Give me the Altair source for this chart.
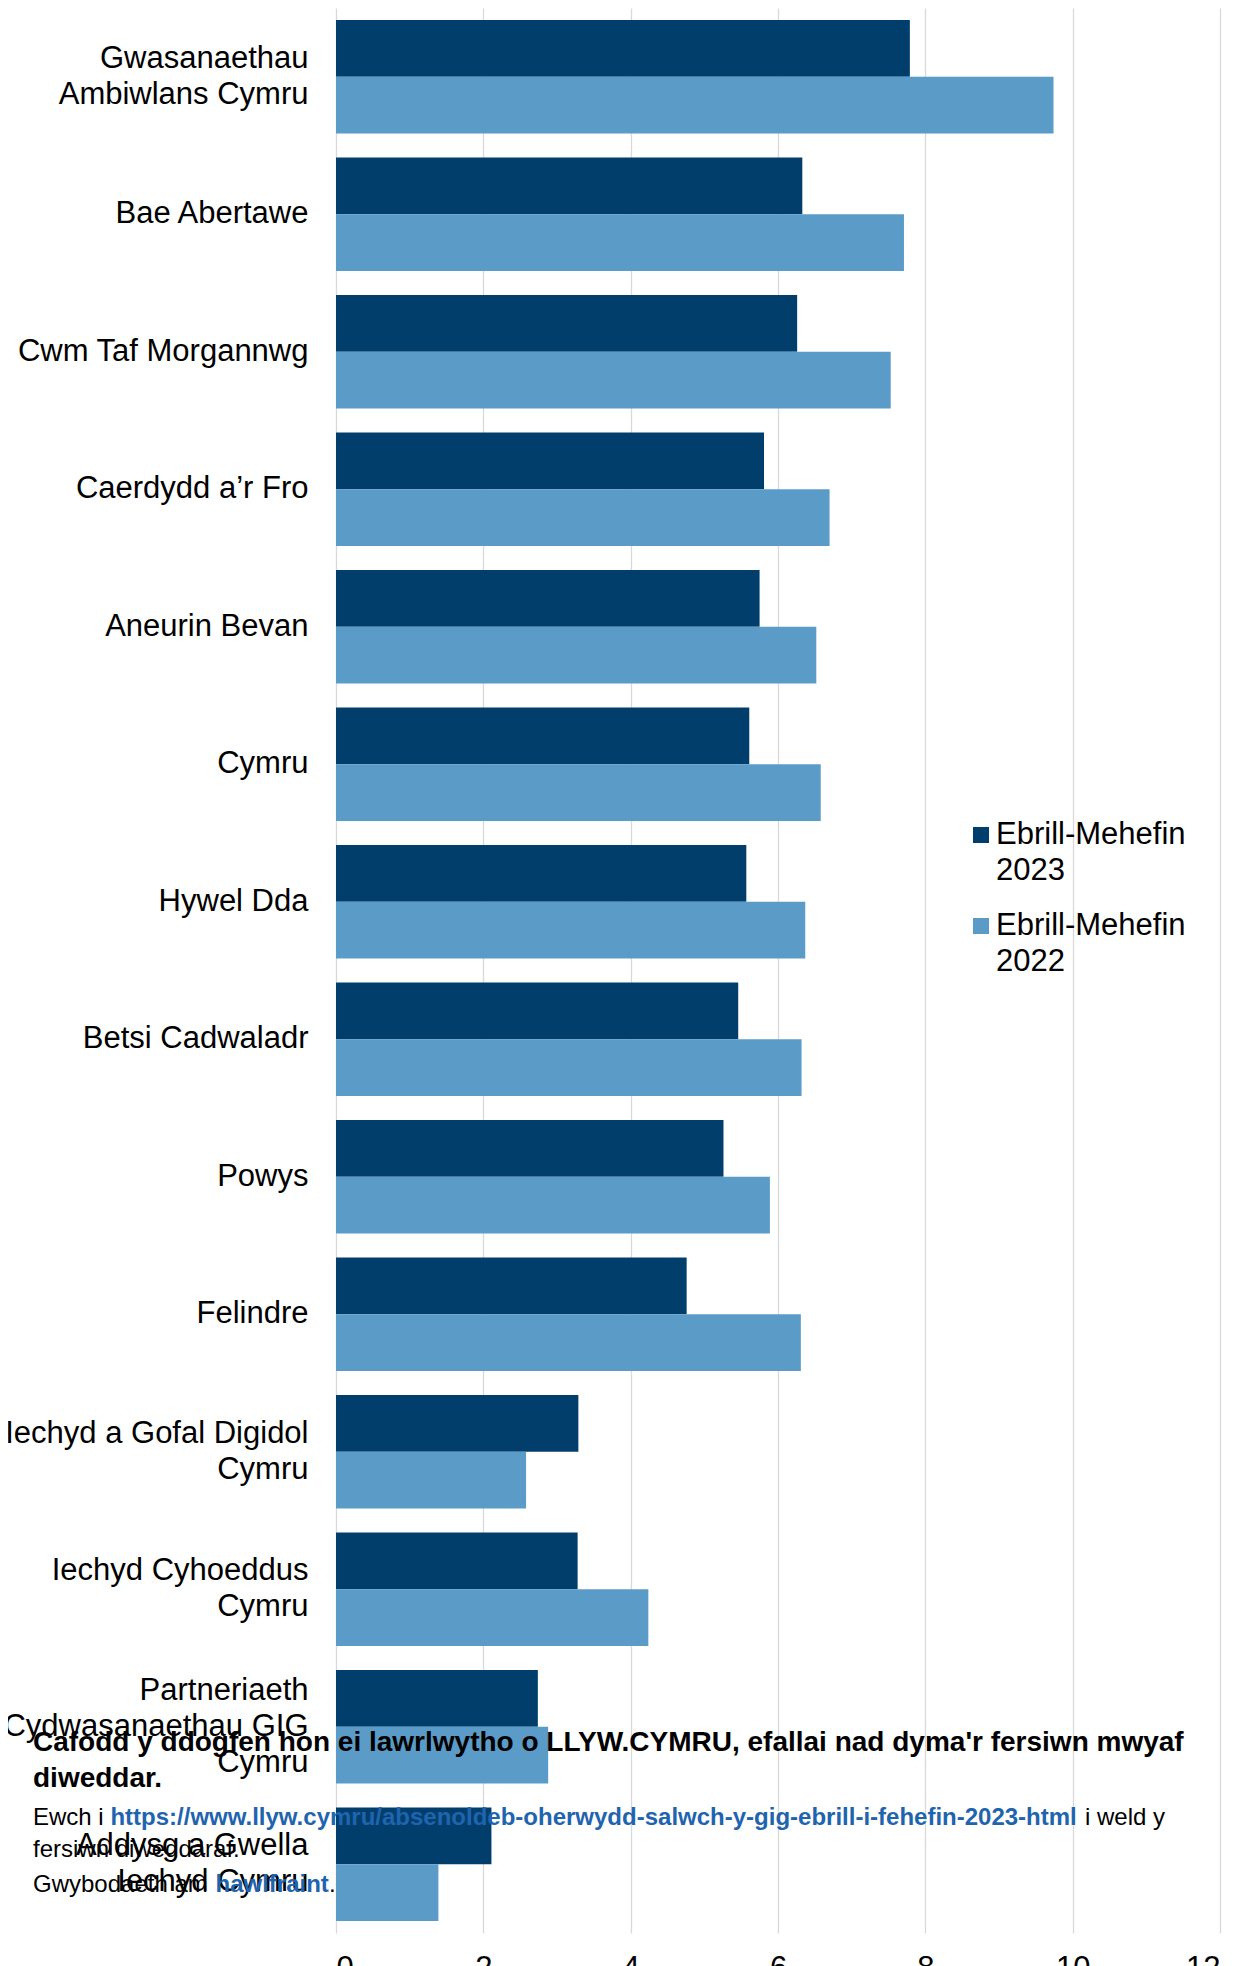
import altair as alt
import pandas as pd

# ---- data ----
categories = [
    "Gwasanaethau\nAmbiwlans Cymru",
    "Bae Abertawe",
    "Cwm Taf Morgannwg",
    "Caerdydd a’r Fro",
    "Aneurin Bevan",
    "Cymru",
    "Hywel Dda",
    "Betsi Cadwaladr",
    "Powys",
    "Felindre",
    "Iechyd a Gofal Digidol\nCymru",
    "Iechyd Cyhoeddus\nCymru",
    "Partneriaeth\nCydwasanaethau GIG\nCymru",
    "Addysg a Gwella\nIechyd Cymru",
]
series = ["Ebrill-Mehefin 2023", "Ebrill-Mehefin 2022"]
values_2023 = [7.79, 6.33, 6.26, 5.81, 5.75, 5.61, 5.57, 5.46, 5.26, 4.76, 3.29, 3.28, 2.74, 2.11]
values_2022 = [9.74, 7.71, 7.53, 6.70, 6.52, 6.58, 6.37, 6.32, 5.89, 6.31, 2.58, 4.24, 2.88, 1.39]
x_ticks = [0, 2, 4, 6, 8, 10, 12]
colors = ["#023e6b", "#5b9bc8"]

notice_bold = ["Cafodd y ddogfen hon ei lawrlwytho o LLYW.CYMRU, efallai nad dyma'r fersiwn mwyaf",
               "diweddar."]
notice_pre = "Ewch i"
notice_url = "https://www.llyw.cymru/absenoldeb-oherwydd-salwch-y-gig-ebrill-i-fehefin-2023-html"
notice_post = "i weld y"
notice_line2 = "fersiwn diweddaraf."
notice_line3 = "Gwybodaeth am"
notice_link2 = "hawlfraint"
notice_dot = "."

FONT = "Liberation Sans"
LINK = "#1f64ae"
FS = 31
LH = 36

rows = []
for c, a, b in zip(categories, values_2023, values_2022):
    rows.append({"category": c, "series": series[0], "value": a})
    rows.append({"category": c, "series": series[1], "value": b})
df = pd.DataFrame(rows)

nlines = "length(split(datum.value, '\\n'))"

bars = alt.Chart(df).mark_bar().encode(
    x=alt.X(
        "value:Q",
        scale=alt.Scale(domain=[0, 12], nice=False, zero=True),
        axis=alt.Axis(
            values=x_ticks, title=None, grid=True, gridColor="#d9d9d9", gridWidth=1.3,
            domain=False, ticks=False, labelFontSize=FS, labelFont=FONT,
            labelColor="black", labelPadding=20,
        ),
    ),
    y=alt.Y(
        "category:N",
        sort=categories,
        scale=alt.Scale(paddingInner=0.175, paddingOuter=0.0875),
        axis=alt.Axis(
            title=None, domain=False, ticks=False, labelFontSize=FS, labelFont=FONT,
            labelColor="black", labelPadding=28, labelLimit=400, labelOverlap=False,
            labelExpr="split(datum.label, '\\n')", labelLineHeight=LH,
            labelOffset={
                "condition": [
                    {"test": nlines + " == 3", "value": -LH},
                    {"test": nlines + " == 2", "value": -LH / 2},
                ],
                "value": 0,
            },
        ),
    ),
    yOffset=alt.YOffset("series:N", sort=series, scale=alt.Scale(paddingInner=0, paddingOuter=0)),
    color=alt.Color("series:N", sort=series, scale=alt.Scale(domain=series, range=colors), legend=None),
)

one = pd.DataFrame({"k": [0]})

# ---- legend (manual, to get two-line labels with the right spacing) ----
legend_layers = []
for i, (s, col) in enumerate(zip(series, colors)):
    legend_layers.append(
        alt.Chart(one).mark_square(size=256, color=col, opacity=1, strokeWidth=0).encode(
            x=alt.value(645), y=alt.value(827 + 91 * i)
        )
    )
    legend_layers.append(
        alt.Chart(one).mark_text(
            text=s.split(" "), font=FONT, fontSize=FS, lineHeight=LH, align="left",
            baseline="alphabetic", color="black",
        ).encode(x=alt.value(660), y=alt.value(836 + 91 * i))
    )

# ---- overlaid download notice ----
def txt(t, x, y, size, bold=False, color="black", lh=None):
    kw = dict(text=t, font=FONT, fontSize=size, align="left", baseline="alphabetic",
              color=color, fontWeight="bold" if bold else "normal")
    if lh:
        kw["lineHeight"] = lh
    return alt.Chart(one).mark_text(**kw).encode(x=alt.value(x), y=alt.value(y))

overlay = [
    txt(notice_bold, -303, 1743, 28, bold=True, lh=36),
    txt(notice_pre, -303, 1817, 24),
    txt(notice_url, -225.6, 1817, 24, bold=True, color=LINK),
    txt(notice_post, 749, 1817, 24),
    txt(notice_line2, -303, 1849, 24),
    txt(notice_line3, -303, 1884, 24),
    txt(notice_link2, -120.5, 1884, 24, bold=True, color=LINK),
    txt(notice_dot, -7, 1884, 24),
]

chart = alt.layer(bars, *legend_layers, *overlay).properties(
    width=884,
    height=1925,
    padding={"left": 328, "top": 0, "right": 22, "bottom": 40},
    autosize=alt.AutoSizeParams(type="none"),
    background="white",
).configure_view(stroke=None)

chart.save("out.html", embed_options={"renderer": "svg", "actions": False})
